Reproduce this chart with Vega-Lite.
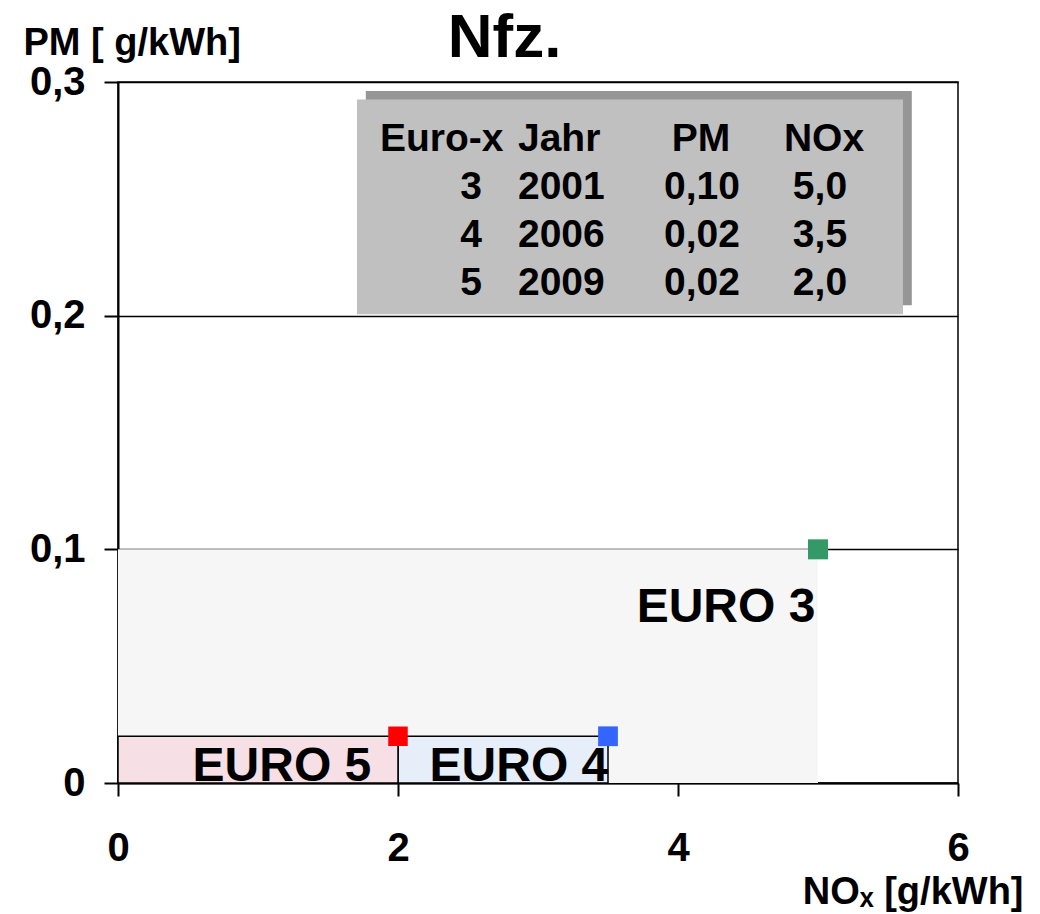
{
  "$schema": "https://vega.github.io/schema/vega-lite/v6.json",
  "width": 840,
  "height": 701,
  "autosize": "none",
  "padding": {"left": 118, "top": 82, "right": 82, "bottom": 131},
  "background": "white",
  "config": {
    "locale": {"number": {"decimal": ",", "thousands": ".", "grouping": [3], "currency": ["", " €"]}},
    "font": "Liberation Sans",
    "view": {"stroke": "black", "strokeWidth": 1.5},
    "axis": {
      "labelFont": "Liberation Sans",
      "labelFontWeight": "bold",
      "labelColor": "black",
      "labelFontSize": 40,
      "labelFlush": false,
      "labelOverlap": false,
      "titleFont": "Liberation Sans",
      "titleFontWeight": "bold",
      "titleColor": "black",
      "titleFontSize": 38,
      "domainColor": "black",
      "domainWidth": 2,
      "tickColor": "black",
      "tickWidth": 2
    }
  },
  "datasets": {
    "limits": [
      {"euro": "3", "jahr": "2001", "pm": 0.10, "nox": 5.0, "nox_from": 0},
      {"euro": "4", "jahr": "2006", "pm": 0.02, "nox": 3.5, "nox_from": 2.0},
      {"euro": "5", "jahr": "2009", "pm": 0.02, "nox": 2.0, "nox_from": 0}
    ]
  },
  "layer": [
    {
      "data": {"name": "limits"},
      "transform": [{"filter": "datum.euro == '3'"}],
      "mark": {"type": "rect", "fill": "#f6f6f6", "strokeWidth": 0},
      "encoding": {
        "x": {
          "field": "nox_from",
          "type": "quantitative",
          "scale": {"domain": [0, 6], "nice": false, "zero": false},
          "axis": {
            "values": [0, 2, 4, 6],
            "format": "d",
            "grid": false,
            "tickSize": 13,
            "labelPadding": 32,
            "title": "NOₓ [g/kWh]",
            "titleAlign": "right",
            "titleAnchor": null,
            "titleBaseline": "alphabetic",
            "titleX": 905,
            "titleY": 120
          }
        },
        "x2": {"field": "nox"},
        "y": {
          "field": "pm",
          "type": "quantitative",
          "scale": {"domain": [0, 0.3], "nice": false, "zero": false},
          "axis": {
            "values": [0, 0.1, 0.2, 0.3],
            "format": ".1~f",
            "grid": true,
            "gridColor": "black",
            "gridWidth": 1.5,
            "gridOpacity": 1,
            "tickSize": 14,
            "labelPadding": 19,
            "title": "PM [ g/kWh]",
            "titleAngle": 0,
            "titleAlign": "left",
            "titleAnchor": null,
            "titleBaseline": "alphabetic",
            "titleX": -95,
            "titleY": -28
          }
        },
        "y2": {"datum": 0}
      }
    },
    {
      "data": {"name": "limits"},
      "transform": [{"filter": "datum.euro != '3'"}],
      "mark": {"type": "rect", "stroke": "black", "strokeWidth": 1.5},
      "encoding": {
        "x": {"field": "nox_from", "type": "quantitative"},
        "x2": {"field": "nox"},
        "y": {"field": "pm", "type": "quantitative"},
        "y2": {"datum": 0},
        "fill": {
          "field": "euro",
          "type": "nominal",
          "scale": {"domain": ["4", "5"], "range": ["#e6eefa", "#f6dfe5"]},
          "legend": null
        }
      }
    },
    {
      "data": {"values": [{}]},
      "mark": {"type": "rect", "fill": "#969696"},
      "encoding": {
        "x": {"datum": 1.77, "type": "quantitative"},
        "x2": {"datum": 5.67},
        "y": {"datum": 0.2045, "type": "quantitative"},
        "y2": {"datum": 0.2962}
      }
    },
    {
      "data": {"values": [{}]},
      "mark": {"type": "rect", "fill": "#c0c0c0"},
      "encoding": {
        "x": {"datum": 1.707, "type": "quantitative"},
        "x2": {"datum": 5.607},
        "y": {"datum": 0.2006, "type": "quantitative"},
        "y2": {"datum": 0.2925}
      }
    },
    {
      "data": {"values": [{}]},
      "mark": {"type": "text", "text": "Nfz.", "align": "center", "baseline": "alphabetic", "fontSize": 62, "fontWeight": "bold", "color": "black"},
      "encoding": {"x": {"datum": 2.761, "type": "quantitative"}, "y": {"datum": 0.3107, "type": "quantitative"}}
    },
    {
      "data": {"values": [{}]},
      "encoding": {"y": {"datum": 0.2705, "type": "quantitative"}},
      "layer": [
        {"mark": {"type": "text", "text": "Euro-x", "align": "left", "baseline": "alphabetic", "fontSize": 39, "fontWeight": "bold", "color": "black"},
         "encoding": {"x": {"datum": 1.871, "type": "quantitative"}}},
        {"mark": {"type": "text", "text": "Jahr", "align": "left", "baseline": "alphabetic", "fontSize": 39, "fontWeight": "bold", "color": "black"},
         "encoding": {"x": {"datum": 2.857, "type": "quantitative"}}},
        {"mark": {"type": "text", "text": "PM", "align": "center", "baseline": "alphabetic", "fontSize": 39, "fontWeight": "bold", "color": "black"},
         "encoding": {"x": {"datum": 4.164, "type": "quantitative"}}},
        {"mark": {"type": "text", "text": "NOx", "align": "center", "baseline": "alphabetic", "fontSize": 39, "fontWeight": "bold", "color": "black"},
         "encoding": {"x": {"datum": 5.043, "type": "quantitative"}}}
      ]
    },
    {
      "data": {"name": "limits"},
      "transform": [{"filter": "datum.euro == '3'"}],
      "encoding": {"y": {"datum": 0.2499, "type": "quantitative"}},
      "layer": [
        {"mark": {"type": "text", "align": "right", "baseline": "alphabetic", "fontSize": 39, "fontWeight": "bold", "color": "black"},
         "encoding": {"x": {"datum": 2.6, "type": "quantitative"}, "text": {"field": "euro"}}},
        {"mark": {"type": "text", "align": "left", "baseline": "alphabetic", "fontSize": 39, "fontWeight": "bold", "color": "black"},
         "encoding": {"x": {"datum": 2.857, "type": "quantitative"}, "text": {"field": "jahr"}}},
        {"mark": {"type": "text", "align": "center", "baseline": "alphabetic", "fontSize": 39, "fontWeight": "bold", "color": "black"},
         "encoding": {"x": {"datum": 4.171, "type": "quantitative"}, "text": {"field": "pm", "type": "quantitative", "format": ".2f"}}},
        {"mark": {"type": "text", "align": "center", "baseline": "alphabetic", "fontSize": 39, "fontWeight": "bold", "color": "black"},
         "encoding": {"x": {"datum": 5.014, "type": "quantitative"}, "text": {"field": "nox", "type": "quantitative", "format": ".1f"}}}
      ]
    },
    {
      "data": {"name": "limits"},
      "transform": [{"filter": "datum.euro == '4'"}],
      "encoding": {"y": {"datum": 0.2294, "type": "quantitative"}},
      "layer": [
        {"mark": {"type": "text", "align": "right", "baseline": "alphabetic", "fontSize": 39, "fontWeight": "bold", "color": "black"},
         "encoding": {"x": {"datum": 2.6, "type": "quantitative"}, "text": {"field": "euro"}}},
        {"mark": {"type": "text", "align": "left", "baseline": "alphabetic", "fontSize": 39, "fontWeight": "bold", "color": "black"},
         "encoding": {"x": {"datum": 2.857, "type": "quantitative"}, "text": {"field": "jahr"}}},
        {"mark": {"type": "text", "align": "center", "baseline": "alphabetic", "fontSize": 39, "fontWeight": "bold", "color": "black"},
         "encoding": {"x": {"datum": 4.171, "type": "quantitative"}, "text": {"field": "pm", "type": "quantitative", "format": ".2f"}}},
        {"mark": {"type": "text", "align": "center", "baseline": "alphabetic", "fontSize": 39, "fontWeight": "bold", "color": "black"},
         "encoding": {"x": {"datum": 5.014, "type": "quantitative"}, "text": {"field": "nox", "type": "quantitative", "format": ".1f"}}}
      ]
    },
    {
      "data": {"name": "limits"},
      "transform": [{"filter": "datum.euro == '5'"}],
      "encoding": {"y": {"datum": 0.2088, "type": "quantitative"}},
      "layer": [
        {"mark": {"type": "text", "align": "right", "baseline": "alphabetic", "fontSize": 39, "fontWeight": "bold", "color": "black"},
         "encoding": {"x": {"datum": 2.6, "type": "quantitative"}, "text": {"field": "euro"}}},
        {"mark": {"type": "text", "align": "left", "baseline": "alphabetic", "fontSize": 39, "fontWeight": "bold", "color": "black"},
         "encoding": {"x": {"datum": 2.857, "type": "quantitative"}, "text": {"field": "jahr"}}},
        {"mark": {"type": "text", "align": "center", "baseline": "alphabetic", "fontSize": 39, "fontWeight": "bold", "color": "black"},
         "encoding": {"x": {"datum": 4.171, "type": "quantitative"}, "text": {"field": "pm", "type": "quantitative", "format": ".2f"}}},
        {"mark": {"type": "text", "align": "center", "baseline": "alphabetic", "fontSize": 39, "fontWeight": "bold", "color": "black"},
         "encoding": {"x": {"datum": 5.014, "type": "quantitative"}, "text": {"field": "nox", "type": "quantitative", "format": ".1f"}}}
      ]
    },
    {
      "data": {"values": [{}]},
      "layer": [
        {"mark": {"type": "text", "text": "EURO 3", "align": "center", "baseline": "alphabetic", "fontSize": 48, "fontWeight": "bold", "color": "black"},
         "encoding": {"x": {"datum": 4.343, "type": "quantitative"}, "y": {"datum": 0.0689, "type": "quantitative"}}},
        {"mark": {"type": "text", "text": "EURO 5", "align": "center", "baseline": "alphabetic", "fontSize": 48, "fontWeight": "bold", "color": "black"},
         "encoding": {"x": {"datum": 1.171, "type": "quantitative"}, "y": {"datum": 0.001, "type": "quantitative"}}},
        {"mark": {"type": "text", "text": "EURO 4", "align": "center", "baseline": "alphabetic", "fontSize": 48, "fontWeight": "bold", "color": "black"},
         "encoding": {"x": {"datum": 2.864, "type": "quantitative"}, "y": {"datum": 0.001, "type": "quantitative"}}}
      ]
    },
    {
      "data": {"name": "limits"},
      "mark": {"type": "point", "shape": "square", "filled": true, "opacity": 1},
      "encoding": {
        "x": {"field": "nox", "type": "quantitative"},
        "y": {"field": "pm", "type": "quantitative"},
        "color": {
          "field": "euro",
          "type": "nominal",
          "scale": {"domain": ["3", "4", "5"], "range": ["#339966", "#3366ff", "#ff0000"]},
          "legend": null
        },
        "size": {
          "field": "euro",
          "type": "nominal",
          "scale": {"domain": ["3", "4", "5"], "range": [400, 380, 290]},
          "legend": null
        }
      }
    }
  ]
}
